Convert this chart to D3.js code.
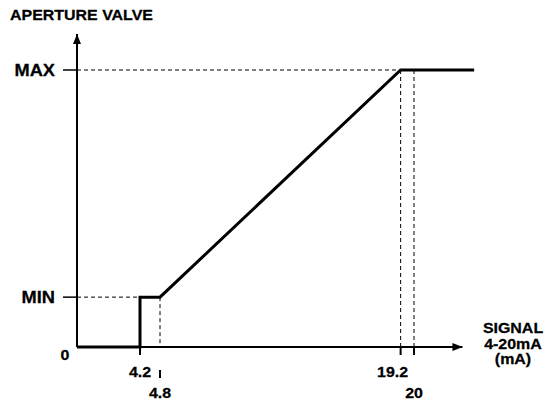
<!DOCTYPE html>
<html>
<head>
<meta charset="utf-8">
<script src="https://cdn.jsdelivr.net/npm/d3@7"></script>
<style>
body { margin: 0; background: #fff; }
text { font-family: Arial, "Liberation Sans", sans-serif; font-weight: bold; fill: #000; stroke: #000; stroke-width: 0.25; }
</style>
</head>
<body>
<div id="chart"></div>
<script>
// response curve: signal (mA) -> aperture (%)
var signal = [0, 4.2, 4.2, 4.8, 19.2, 23.6];
var aperture = [0, 0, 18, 18, 100, 100];
var levels = ["MIN", "MAX"];
var levelValues = [18, 100];
var xTicks = [4.2, 4.8, 19.2, 20];
var xTickLabels = ["4.2", "4.8", "19.2", "20"];
var xTickLow = [false, true, false, true];
var xAxisEnd = 22.9;
var yAxisEnd = 113;

var width = 545, height = 401,
stretch = 1.14;

var svg = d3.select("#chart")
.append("svg")
.attr("width", width)
.attr("height", height);

// schematic axis, not to scale
var x = d3.scaleLinear()
.domain([0, 4.2, 4.8, 20])
.range([77, 140, 160, 414]);
var y = d3.scaleLinear()
.domain([0, 100])
.range([347, 70]);

function label(txt, px, py, size, anchor) {
    return svg.append("text")
    .attr("transform", "translate(" + px + "," + py + ") scale(" + stretch + ",1)")
    .attr("text-anchor", anchor || "middle")
    .style("font-size", size + "px")
    .text(txt);
}

// dashed guides
var guides = svg.append("g")
.attr("stroke", "#000")
.attr("stroke-width", 1)
.attr("stroke-dasharray", "4,3");
guides.append("line")
.attr("x1", x(0)).attr("x2", x(19.2))
.attr("y1", y(100)).attr("y2", y(100));
guides.append("line")
.attr("x1", x(0)).attr("x2", x(4.2))
.attr("y1", y(18)).attr("y2", y(18));
guides.append("line")
.attr("x1", x(4.8)).attr("x2", x(4.8))
.attr("y1", y(18)).attr("y2", y(0));
[19.2, 20].forEach(function(v) {
    guides.append("line")
    .attr("x1", x(v)).attr("x2", x(v))
    .attr("y1", y(100)).attr("y2", y(0));
});

// axes with arrow heads
var defs = svg.append("defs");
defs.append("marker")
.attr("id", "arrow")
.attr("viewBox", "0 0 10 8")
.attr("refX", 10).attr("refY", 4)
.attr("markerWidth", 10).attr("markerHeight", 8)
.attr("markerUnits", "userSpaceOnUse")
.attr("orient", "auto")
.append("path")
.attr("d", "M0,0L10,4L0,8Z")
.attr("fill", "#000");

svg.append("line")
.attr("x1", x(0)).attr("x2", x(0))
.attr("y1", y(0)).attr("y2", y(yAxisEnd))
.attr("stroke", "#000").attr("stroke-width", 2)
.attr("marker-end", "url(#arrow)");
svg.append("line")
.attr("x1", x(0)).attr("x2", x(xAxisEnd))
.attr("y1", y(0)).attr("y2", y(0))
.attr("stroke", "#000").attr("stroke-width", 2)
.attr("marker-end", "url(#arrow)");

// y level ticks + labels
levels.forEach(function(l, i) {
    var py = y(levelValues[i]);
    svg.append("line")
    .attr("x1", 63).attr("x2", x(0))
    .attr("y1", py).attr("y2", py)
    .attr("stroke", "#000").attr("stroke-width", 1.5);
    label(l, 55, py + 6, 16, "end");
});
label("0", 65, 360, 14);

// x ticks + labels (the 4.8 tick sits below the 4.2 label)
xTicks.forEach(function(v, i) {
    var px = x(v);
    var t0 = xTickLow[i] && v < 10 ? y(0) + 23 : y(0);
    svg.append("line")
    .attr("x1", px).attr("x2", px)
    .attr("y1", t0).attr("y2", t0 + 8)
    .attr("stroke", "#000").attr("stroke-width", 2);
    var lx = v == 19.2 ? px - 8 : px;
    label(xTickLabels[i], lx, xTickLow[i] ? 398 : 377, 14);
});

// response line
var line = d3.line()
.x(function(d) { return x(d[0]); })
.y(function(d) { return y(d[1]); });
svg.append("path")
.datum(d3.zip(signal, aperture))
.attr("d", line)
.attr("fill", "none")
.attr("stroke", "#000")
.attr("stroke-width", 3);

// titles
label("APERTURE VALVE", 10, 20, 14, "start");
label("SIGNAL", 513, 333, 14);
label("4-20mA", 513, 349, 14);
label("(mA)", 513, 364, 14);
</script>
</body>
</html>
